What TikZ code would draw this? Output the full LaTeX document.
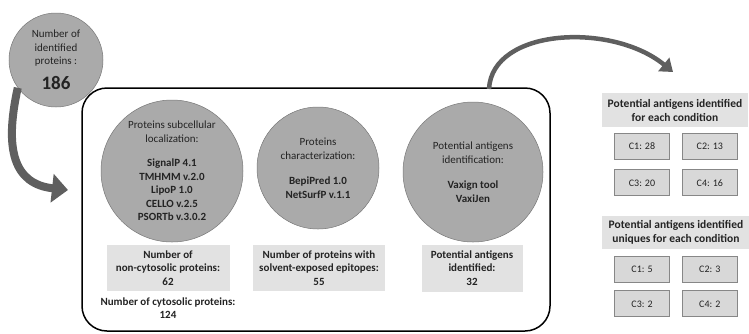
\documentclass[tikz,border=0pt]{standalone}
\usepackage{fontspec}
\setmainfont{Carlito}
\usepackage{xcolor}
\usetikzlibrary{shapes, arrows.meta, positioning, calc}

\definecolor{circfill}{RGB}{170,170,170}
\definecolor{circline}{RGB}{120,120,120}
\definecolor{boxfill}{RGB}{226,226,226}
\definecolor{condfill}{RGB}{216,216,216}
\definecolor{condline}{RGB}{135,135,135}
\definecolor{arrowgray}{RGB}{95,95,95}
\definecolor{inkgray}{RGB}{35,35,35}

\begin{document}
\begin{tikzpicture}[x=1pt, y=-1pt, node distance=1.5cm,
  circ/.style={circle, draw=circline, fill=circfill, line width=0.5pt, align=center, text=inkgray, font=\fontsize{11}{13.5}\selectfont},
  infobox/.style={rectangle, fill=boxfill, align=center, text=inkgray, font=\bfseries\fontsize{11}{13.5}\selectfont},
  condbox/.style={rectangle, draw=condline, fill=condfill, line width=0.8pt, minimum width=55pt, minimum height=26pt, text=inkgray, font=\fontsize{10}{12}\selectfont},
  flow/.style={draw=arrowgray, line cap=butt}]
\useasboundingbox (0,0) rectangle (749,333);

% starting count
\node (total) [circ, minimum size=94pt] at (56,60) {Number of\\identified\\proteins :\\[9pt]{\bfseries\fontsize{19}{19}\selectfont 186}};

% pipeline frame
\node (pipeline) [draw, rounded corners=25pt, line width=1.5pt, minimum width=468pt, minimum height=243pt] at (316,209.5) {};

% three analysis steps
\node (subcell) [circ, minimum size=142pt] at (172,171) {Proteins subcellular\\localization:\\[11pt]{\bfseries SignalP 4.1}\\{\bfseries TMHMM v.2.0}\\{\bfseries LipoP 1.0}\\{\bfseries CELLO v.2.5}\\{\bfseries PSORTb v.3.0.2}};
\node (charact) [circ, minimum size=122pt] at (318,168) {Proteins\\characterization:\\[12pt]{\bfseries BepiPred 1.0}\\{\bfseries NetSurfP v.1.1}};
\node (antigen) [circ, minimum size=140pt] at (473,172) {Potential antigens\\identification:\\[12pt]{\bfseries Vaxign tool}\\{\bfseries VaxiJen}};

\node (noncyto) [infobox, minimum width=123pt, minimum height=46pt] at (168,268) {Number of\\non-cytosolic proteins:\\62};
\node (exposed) [infobox, minimum width=132pt, minimum height=46pt] at (319,268) {Number of proteins with\\solvent-exposed epitopes:\\55};
\node (ident) [infobox, minimum width=101pt, minimum height=47pt] at (472,268) {Potential antigens\\identified:\\32};
\node (cyto) [align=center, text=inkgray, font=\bfseries\fontsize{11}{13.5}\selectfont, below=3pt of noncyto] {Number of cytosolic proteins:\\124};

% results per condition
\node (allhead) [infobox, minimum width=146pt, minimum height=34pt, font=\bfseries\fontsize{11.5}{14}\selectfont] at (675,110) {Potential antigens identified\\for each condition};
\node (allc1) [condbox] at (642,146) {C1: 28};
\node (allc2) [condbox, right=12pt of allc1] {C2: 13};
\node (allc3) [condbox, below=10pt of allc1] {C3: 20};
\node (allc4) [condbox, right=12pt of allc3] {C4: 16};

\node (unihead) [infobox, minimum width=148pt, minimum height=33pt, font=\bfseries\fontsize{11.5}{14}\selectfont] at (676,232) {Potential antigens identified\\uniques for each condition};
\node (unic1) [condbox] at (642,269) {C1: 5};
\node (unic2) [condbox, right=12pt of unic1] {C2: 3};
\node (unic3) [condbox, below=8pt of unic1] {C3: 2};
\node (unic4) [condbox, right=12pt of unic3] {C4: 2};

% arrows
\coordinate (intoframe) at (68,190);
\coordinate (outframe) at (489,89);
\coordinate (intoresults) at (673,72);
\draw [flow, line width=8pt, -{Triangle[width=28pt,length=16pt]}] (total.216) .. controls (4,150) and (14,184) .. (intoframe);
\draw [flow, line width=4.5pt, -{Triangle[width=17pt,length=12pt]}] (outframe) .. controls (492,28) and (612,22) .. (intoresults);
\end{tikzpicture}
\end{document}
